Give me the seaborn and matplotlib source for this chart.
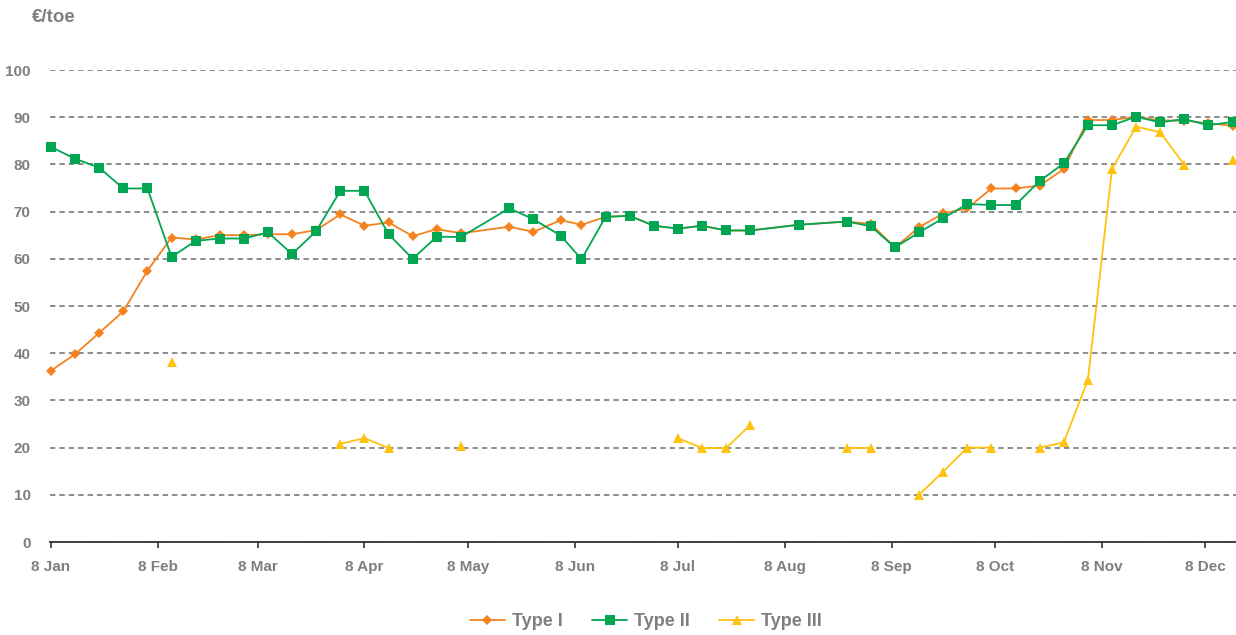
import numpy as np
import pandas as pd
import seaborn as sns
import matplotlib.pyplot as plt
from matplotlib.lines import Line2D

nan = np.nan

# weekly quotes starting 8 Jan 2024, nan = no quote that week
start_date = '2024-01-08'
n_weeks = 50
shifted_week = 21  # that week's quote was taken one day later

type_1 = [36.3, 39.8, 44.3, 48.9, 57.5, 64.5, 64.1, 65.0, 65.0, 65.2,
          65.2, 66.1, 69.4, 67.0, 67.7, 64.8, 66.3, 65.4, nan, 66.8,
          65.7, 68.2, 67.2, 68.9, 69.1, 67.0, 66.4, 67.0, 66.0, 66.0,
          nan, 67.2, nan, 67.9, 67.4, 62.4, 66.7, 69.6, 70.7, 74.9,
          74.9, 75.5, 79.0, 89.4, 89.4, 90.1, 89.3, 89.3, 88.7, 88.2]

type_2 = [83.7, 81.2, 79.3, 74.9, 74.9, 60.4, 63.8, 64.3, 64.3, 65.6,
          61.0, 65.9, 74.4, 74.4, 65.2, 60.0, 64.7, 64.6, nan, 70.7,
          68.4, 64.9, 59.9, 68.9, 69.1, 67.0, 66.4, 67.0, 66.0, 66.0,
          nan, 67.2, nan, 67.9, 66.9, 62.4, 65.6, 68.6, 71.6, 71.4,
          71.4, 76.5, 80.2, 88.3, 88.3, 90.1, 88.9, 89.6, 88.3, 89.0]

type_3 = [nan, nan, nan, nan, nan, 38.1, nan, nan, nan, nan,
          nan, nan, 20.8, 22.0, 19.9, nan, nan, 20.3, nan, nan,
          nan, nan, nan, nan, nan, nan, 22.0, 19.9, 19.9, 24.8,
          nan, nan, nan, 20.0, 20.0, nan, 10.0, 14.9, 20.0, 20.0,
          nan, 20.0, 21.1, 34.3, 79.0, 88.0, 86.8, 79.9, nan, 80.9]

series_names = ['Type I', 'Type II', 'Type III']
series_colors = ['#F5821F', '#00A651', '#FFC20E']
series_markers = ['D', 's', '^']
marker_sizes = [5, 7.5, 6.5]
break_on_gaps = [False, False, True]  # type III line stops where weeks are missing

tick_labels = ['8 Jan', '8 Feb', '8 Mar', '8 Apr', '8 May', '8 Jun',
               '8 Jul', '8 Aug', '8 Sep', '8 Oct', '8 Nov', '8 Dec']
y_ticks = [0, 10, 20, 30, 40, 50, 60, 70, 80, 90, 100]

grey = '#7F7F7F'

dates = list(pd.date_range(start_date, periods=n_weeks, freq='7D'))
dates[shifted_week] = dates[shifted_week] + pd.Timedelta(days=1)

# long format, with a segment id so that gaps can break the line
frames = []
for name, vals, brk in zip(series_names, [type_1, type_2, type_3], break_on_gaps):
    part = pd.DataFrame({'date': dates, 'value': vals, 'series': name})
    part['seg'] = part['value'].isna().cumsum() if brk else 0
    frames.append(part.dropna())
df = pd.concat(frames, ignore_index=True)

sns.set_style('white')
plt.rcParams['font.family'] = ['Liberation Sans', 'DejaVu Sans']
plt.rcParams['font.weight'] = 'bold'

fig = plt.figure(figsize=(12.36, 6.35), dpi=100)
ax = fig.add_axes([50 / 1236, 93 / 635, 1186 / 1236, 472 / 635])

for name, color, marker, ms in zip(series_names, series_colors, series_markers, marker_sizes):
    sns.lineplot(data=df[df['series'] == name], x='date', y='value',
                 units='seg', estimator=None, color=color, marker=marker,
                 markersize=ms, markeredgewidth=0, linewidth=1.3,
                 legend=False, ax=ax, clip_on=False)

start = pd.Timestamp(start_date)
ax.set_xlim(start - pd.Timedelta(hours=7), start + pd.Timedelta(days=344))
ax.set_ylim(0, 100)

tick_dates = [start + pd.DateOffset(months=i) for i in range(len(tick_labels))]
ax.set_xticks(tick_dates)
ax.set_xticklabels(tick_labels)
ax.set_yticks(y_ticks)
ax.set_yticklabels([str(v) for v in y_ticks])

ax.set_xlabel('')
ax.set_ylabel('')

for side in ['top', 'right', 'left']:
    ax.spines[side].set_visible(False)
ax.spines['bottom'].set_color('#333333')
ax.spines['bottom'].set_linewidth(1.3)

ax.tick_params(axis='x', length=4, width=1.2, color='#333333', pad=9,
               labelsize=11, labelcolor=grey, bottom=True)
ax.tick_params(axis='y', length=0, pad=14, labelsize=11, labelcolor=grey)

ax.yaxis.grid(True, linestyle=(0, (3, 2.2)), color='#858585', linewidth=1.3)
ax.xaxis.grid(False)
ax.set_axisbelow(True)

fig.text(32 / 1236, 1 - 18 / 635, '€/toe', fontsize=13.5, fontweight='bold',
         color=grey, ha='left', va='center')

handles = [Line2D([], [], color=c, marker=m, markersize=ms, markeredgewidth=0,
                  linewidth=1.3, label=n)
           for n, c, m, ms in zip(series_names, series_colors, series_markers, marker_sizes)]
leg = fig.legend(handles=handles, loc='center', bbox_to_anchor=(646 / 1236, 1 - 622 / 635),
                 ncol=3, frameon=False, fontsize=13, handlelength=1.95,
                 handletextpad=0.4, columnspacing=1.6)
for t in leg.get_texts():
    t.set_color(grey)
    t.set_fontweight('bold')

fig.savefig('out.png', dpi=100)
